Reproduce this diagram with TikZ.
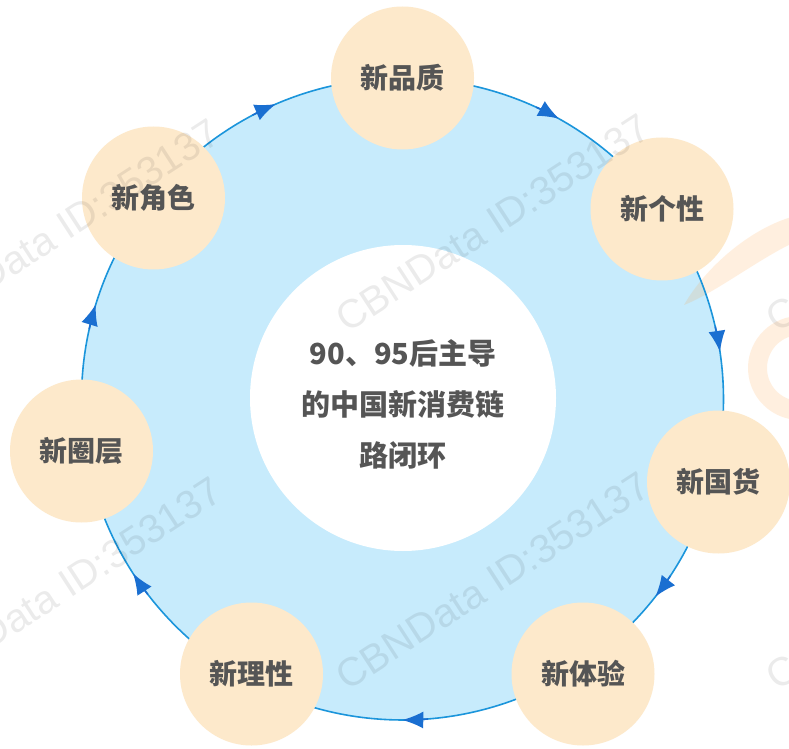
\documentclass[tikz,border=0pt]{standalone}
\usepackage{fontspec}
\newfontfamily\cjk{Noto Sans CJK SC}
\newfontfamily\wmfont{Liberation Sans}
\usetikzlibrary{arrows.meta,calc}
\definecolor{ringfill}{HTML}{C7EBFC}
\definecolor{ringline}{HTML}{1B95DB}
\definecolor{arrowblue}{HTML}{1A6FD1}
\definecolor{peach}{HTML}{FDE9CB}
\definecolor{txt}{HTML}{555555}
\definecolor{logoorange}{HTML}{FF9A2E}
\tikzset{
  stage/.style={circle, fill=peach, minimum size=143pt, inner sep=0pt,
    font=\cjk\bfseries\fontsize{28}{30}\selectfont, text=txt},
  ring/.style={draw=ringline, line width=1.6pt},
  tipline/.style={draw=arrowblue, line width=1.6pt, -{Latex[length=21pt,width=17pt]}},
  wm/.style={font=\wmfont\fontsize{40}{40}\selectfont, text=black, text opacity=0.08,
    rotate=33, anchor=base west, inner sep=0pt},
  logo/.style={fill=logoorange, fill opacity=0.15},
}
\newcommand\ringarc[2]{%
  \path let \p1=($(#1)-(c)$), \p2=($(#2)-(c)$),
    \n1={atan2(\y1,\x1)}, \n2={atan2(\y2,\x2)},
    \n3={ifthenelse(\n2>\n1,\n2-360,\n2)} in
    \pgfextra{\xdef\angA{\n1}\xdef\angB{\n3}};
  \draw[ring] ($(c)+(\angA:321pt)$) arc[start angle=\angA, end angle=\angB, radius=321pt];
  \pgfmathsetmacro\angM{(\angA+\angB)/2}%
  \pgfmathsetmacro\angS{\angM+2.3}%
  \pgfmathsetmacro\angE{\angM-2.3}%
  \draw[tipline] ($(c)+(\angS:321pt)$) arc[start angle=\angS, end angle=\angE, radius=321pt];}
\begin{document}
\begin{tikzpicture}[x=1pt,y=1pt]
\useasboundingbox (0,0) rectangle (789,748);
\clip (0,0) rectangle (789,748);
\fill[white] (0,0) rectangle (789,748);
% big ring
\coordinate (c) at (402.5,349);
\fill[ringfill] (c) circle[radius=321pt];
% faded logo
\fill[logo] (795,532) .. controls (750,520) and (705,480) .. (684,443)
  .. controls (715,455) and (760,490) .. (795,506) -- cycle;
\draw[draw=logoorange, draw opacity=0.15, line width=19pt]
  ([shift={(800,380)}]100:42.5pt) arc[start angle=100, end angle=262, radius=42.5pt];
% nodes positions
\coordinate (p1) at (402.5,670);
\coordinate (p2) at (662,539);
\coordinate (p3) at (718.5,266);
\coordinate (p4) at (583,74);
\coordinate (p5) at (251.5,74);
\coordinate (p6) at (81.5,297);
\coordinate (p7) at (153.5,550);
% arcs with arrows
\ringarc{p1}{p2}
\ringarc{p2}{p3}
\ringarc{p3}{p4}
\ringarc{p4}{p5}
\ringarc{p5}{p6}
\ringarc{p6}{p7}
\ringarc{p7}{p1}
% inner white circle
\node[circle, fill=white, minimum size=306pt, inner sep=0pt] (hub) at (403,350) {};
\node[font=\cjk\bfseries\fontsize{29}{51}\selectfont, text=txt, align=center] (hubtext) at (403,344)
  {90、95后主导\\的中国新消费链\\路闭环};
% stage circles
\node[stage] (n1) at (p1) {新品质};
\node[stage] (n2) at (p2) {新个性};
\node[stage] (n3) at (p3) {新国货};
\node[stage] (n4) at (p4) {新体验};
\node[stage] (n5) at (p5) {新理性};
\node[stage] (n6) at (p6) {新圈层};
\node[stage] (n7) at (p7) {新角色};
% watermarks
\node[wm] (w1) at (347,414) {CBNData ID:353137};
\node[wm] (w2) at (347,56) {CBNData ID:353137};
\node[wm] (w3) at (-83,409) {CBNData ID:353137};
\node[wm] (w4) at (-81,51) {CBNData ID:353137};
\node[wm] (w5) at (777,414) {CBNData ID:353137};
\node[wm] (w6) at (777,56) {CBNData ID:353137};
\end{tikzpicture}
\end{document}
